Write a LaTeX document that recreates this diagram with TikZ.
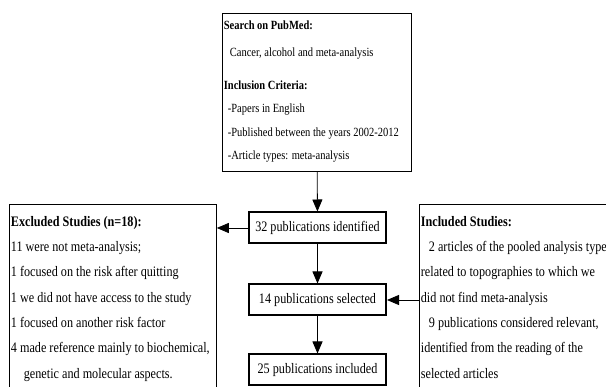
\documentclass[tikz,border=0pt]{standalone}
\usepackage{fontspec}
\setmainfont{Liberation Serif}[FakeStretch=0.84]
\usetikzlibrary{arrows.meta,positioning}

\begin{document}
\begin{tikzpicture}[x=1pt, y=-1pt,
  pubbox/.style={draw, line width=2pt, minimum width=137pt, minimum height=31pt, inner sep=0pt, font=\fontsize{14.5}{16}\selectfont},
  sidebox/.style={draw, line width=0.8pt, anchor=north west, inner xsep=1.5pt, inner ysep=3pt},
  arr/.style={-{Triangle[width=10pt,length=12pt]}, line width=0.8pt}]
\useasboundingbox (0,0) rectangle (606,387);

\node (search) [sidebox] at (222,12.7) {\begin{minipage}[t][152.3pt][t]{186pt}\fontsize{12.5}{23.3}\selectfont
\rule{0pt}{13.5pt}\textbf{Search on PubMed:}\\[3.7pt]
\hspace*{6pt}Cancer, alcohol and meta-analysis\\[9.7pt]
\textbf{Inclusion Criteria:}\\
\hspace*{4pt}-Papers in English\\
\hspace*{4pt}-Published between the years 2002-2012\\
\hspace*{4pt}-Article types: meta-analysis
\end{minipage}};

\node (ident) [pubbox] at (317.5,228) {32 publications identified};
\node (sel) [pubbox, below=39pt of ident] {14 publications selected};
\node (incl) [pubbox, below=37pt of sel] {25 publications included};

% side boxes run off the bottom of the page
\node (excl) [sidebox] at (9,204) {\begin{minipage}[t][200pt][t]{204pt}\fontsize{14.5}{25.3}\selectfont
\rule{0pt}{19pt}\textbf{Excluded Studies (n=18):}\\
11 were not meta-analysis;\\
1 focused on the risk after quitting\\
1 we did not have access to the study\\
1 focused on another risk factor\\
4 made reference mainly to biochemical,\\
\hspace*{13pt}genetic and molecular aspects.
\end{minipage}};
\node (found) [sidebox] at (419,204) {\begin{minipage}[t][200pt][t]{200pt}\fontsize{14.5}{25.3}\selectfont
\rule{0pt}{19pt}\textbf{Included Studies:}\\
\hspace*{8pt}2 articles of the pooled analysis type\\
related to topographies to which we\\
did not find meta-analysis\\
\hspace*{8pt}9 publications considered relevant,\\
identified from the reading of the\\
selected articles
\end{minipage}};

\draw[arr] (search) -- (ident);
\draw[arr] (ident) -- (sel);
\draw[arr] (sel) -- (incl);
\draw[arr] (ident.west) -- (ident.west -| excl.east);
\draw[arr] (found.west |- sel.east) -- (sel.east);
\end{tikzpicture}
\end{document}
